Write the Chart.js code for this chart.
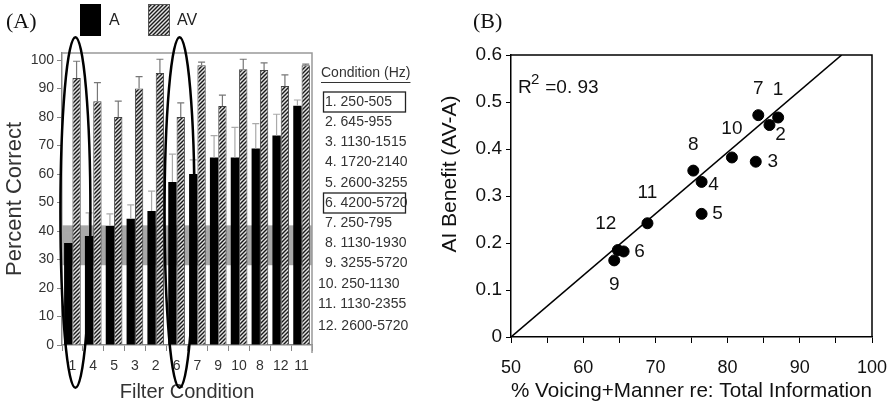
<!DOCTYPE html>
<html>
<head>
<meta charset="utf-8">
<script src="https://cdn.jsdelivr.net/npm/chart.js@4/dist/chart.umd.min.js"></script>
<style>
body{margin:0;background:#fff;width:892px;height:406px;overflow:hidden;position:relative}
#chartA{position:absolute;left:0;top:0}
#chartB{position:absolute;left:430px;top:0}
</style>
</head>
<body>
<canvas id="chartA" width="430" height="406"></canvas>
<canvas id="chartB" width="462" height="406"></canvas>
<script>
// ---- panel A data ----
const filterOrder = ['1','4','5','3','2','6','7','9','10','8','12','11'];
const pctA     = [35.8,38.3,41.8,44.3,47,57.2,60,65.8,65.8,69,73.5,84];
const pctAErr  = [39.4,46.4,46,49.2,54,67,65,73.5,76.4,77.7,81,86];
const pctAV    = [93.7,85.6,80,90,95.5,80,98.2,83.9,96.8,96.5,90.9,98.2];
const pctAVErr = [99.6,92.1,85.6,94.2,100.3,85,99.3,87.7,100.3,99,94.8,98.6];
const pctTicks = [0,10,20,30,40,50,60,70,80,90,100];
const grayBand = [28,42];
const circledConds = ['1','6'];
const bandLabels = ['1. 250-505','2. 645-955','3. 1130-1515','4. 1720-2140','5. 2600-3255','6. 4200-5720',
  '7. 250-795','8. 1130-1930','9. 3255-5720','10. 250-1130','11. 1130-2355','12. 2600-5720'];
const boxedConds = ['1','6'];

// ---- panel B data ----
const condIds   = ['1','2','3','4','5','6','7','8','9','10','11','12'];
const vmPct     = [87.0,85.8,83.9,76.4,76.4,65.6,84.25,75.25,64.3,80.6,68.9,64.8];
const aiBenefit = [0.467,0.451,0.373,0.330,0.262,0.182,0.472,0.354,0.163,0.382,0.242,0.185];
const fitEnds   = [[50,0],[95.8,0.6]];
const rSquared  = '0. 93';

const sans = "'Liberation Sans', Arial, sans-serif";
const serif = "'Liberation Serif', 'Times New Roman', serif";

function makeHatch(){
  const c=document.createElement('canvas'); c.width=4; c.height=4;
  const g=c.getContext('2d');
  g.fillStyle='#e2e2e2'; g.fillRect(0,0,4,4);
  g.strokeStyle='#1a1a1a'; g.lineWidth=1.4;
  g.beginPath();
  g.moveTo(0,4); g.lineTo(4,0);
  g.moveTo(-1,1); g.lineTo(1,-1);
  g.moveTo(3,5); g.lineTo(5,3);
  g.stroke();
  return g.createPattern(c,'repeat');
}
const hatch = makeHatch();

// gray band behind bars
const bandPlugin = {
  id:'band',
  beforeDatasetsDraw(chart){
    const {ctx, chartArea:a, scales:{y}} = chart;
    const t=y.getPixelForValue(grayBand[1]), b=y.getPixelForValue(grayBand[0]);
    ctx.save(); ctx.fillStyle='#a8a8a8'; ctx.fillRect(a.left,t,a.right-a.left,b-t); ctx.restore();
  }
};

// upward error bars
const errorPlugin = {
  id:'errs',
  afterDatasetsDraw(chart){
    const {ctx, scales:{y}} = chart;
    chart.data.datasets.forEach((ds,i)=>{
      if(!ds.errTop) return;
      chart.getDatasetMeta(i).data.forEach((bar,j)=>{
        const yt=y.getPixelForValue(ds.errTop[j]);
        ctx.save(); ctx.strokeStyle=ds.errColor; ctx.lineWidth=1.2;
        ctx.beginPath();
        ctx.moveTo(bar.x,bar.y); ctx.lineTo(bar.x,yt);
        ctx.moveTo(bar.x-3.5,yt); ctx.lineTo(bar.x+3.5,yt);
        ctx.stroke(); ctx.restore();
      });
    });
  }
};

// frame, legend, ellipses and condition list for panel A
const decorA = {
  id:'decorA',
  afterDraw(chart){
    const {ctx, chartArea:a, scales:{x,y}} = chart;
    ctx.save();
    ctx.strokeStyle='#999'; ctx.lineWidth=1.5;
    ctx.beginPath(); ctx.moveTo(a.left,a.top); ctx.lineTo(a.right,a.top); ctx.lineTo(a.right,a.bottom+8); ctx.stroke();

    // panel letter + legend
    ctx.fillStyle='#111'; ctx.font='22px '+serif; ctx.textBaseline='middle'; ctx.textAlign='left';
    ctx.fillText('(A)',6,22);
    ctx.fillStyle='#000'; ctx.fillRect(80,4,21,32);
    ctx.fillStyle=hatch; ctx.fillRect(148,4,22,32);
    ctx.strokeStyle='#555'; ctx.lineWidth=1; ctx.strokeRect(148.5,4.5,21,31);
    ctx.fillStyle='#222'; ctx.font='16px '+sans;
    ctx.fillText(chart.data.datasets[0].label,109,21);
    ctx.fillText(chart.data.datasets[1].label,177,21);

    // ellipses round the circled conditions
    ctx.strokeStyle='#000'; ctx.lineWidth=2.5;
    circledConds.forEach(c=>{
      const cx=x.getPixelForValue(filterOrder.indexOf(c))+3;
      const top=y.getPixelForValue(108), bot=y.getPixelForValue(-15);
      ctx.beginPath(); ctx.ellipse(cx,(top+bot)/2,15,(bot-top)/2,0,0,Math.PI*2); ctx.stroke();
    });

    // condition list on the right
    ctx.fillStyle='#333'; ctx.font='14px '+sans; ctx.textAlign='left';
    ctx.fillText('Condition (Hz)',321,73);
    const w=ctx.measureText('Condition (Hz)').width;
    ctx.strokeStyle='#333'; ctx.lineWidth=1;
    ctx.beginPath(); ctx.moveTo(321,82.5); ctx.lineTo(321+w,82.5); ctx.stroke();
    bandLabels.forEach((t,i)=>{
      const ly=102+i*20.2+(i===11?2:0);
      const num=t.split('.')[0];
      ctx.fillText(t, num.length>1?318:325, ly);
      if(boxedConds.includes(num)){
        ctx.strokeStyle='#222'; ctx.lineWidth=1.3;
        ctx.strokeRect(323.5,ly-10,82,20);
      }
    });
    ctx.restore();
  }
};

new Chart(document.getElementById('chartA'),{
  type:'bar',
  data:{
    labels:filterOrder,
    datasets:[
      {label:'A',data:pctA,backgroundColor:'#000',borderWidth:0,errTop:pctAErr,errColor:'#aaa'},
      {label:'AV',data:pctAV,backgroundColor:hatch,borderColor:'#444',borderWidth:1,errTop:pctAVErr,errColor:'#777'}
    ]
  },
  options:{
    responsive:false, animation:false,
    layout:{padding:{left:0,right:118,top:53,bottom:0}},
    datasets:{bar:{categoryPercentage:0.8,barPercentage:1}},
    plugins:{legend:{display:false},tooltip:{enabled:false}},
    scales:{
      x:{
        grid:{display:true,drawOnChartArea:false,tickLength:6,color:'#888',offset:true},
        border:{color:'#888',width:1.5},
        ticks:{color:'#333',font:{family:sans,size:14},padding:7,maxRotation:0},
        title:{display:true,text:'Filter Condition',color:'#333',font:{family:sans,size:20},padding:{top:0,bottom:2}},
        afterFit(s){s.height=61;}
      },
      y:{
        min:0,max:102.5,
        grid:{display:true,drawOnChartArea:false,tickLength:5,color:'#888'},
        border:{color:'#888',width:1.5},
        ticks:{color:'#333',font:{family:sans,size:14},padding:3},
        afterBuildTicks(s){s.ticks=pctTicks.map(v=>({value:v}));},
        title:{display:true,text:'Percent Correct',color:'#333',font:{family:sans,size:22},padding:{top:2,bottom:0}},
        afterFit(s){s.width=62;}
      }
    }
  },
  plugins:[bandPlugin,errorPlugin,decorA]
});

// ---- panel B ----
const decorB = {
  id:'decorB',
  afterDraw(chart){
    const {ctx, chartArea:a, scales:{x,y}} = chart;
    ctx.save();
    ctx.strokeStyle='#000'; ctx.lineWidth=1.5;
    ctx.beginPath(); ctx.moveTo(a.left,a.top); ctx.lineTo(a.right,a.top); ctx.lineTo(a.right,a.bottom); ctx.stroke();
    ctx.fillStyle='#111'; ctx.textBaseline='middle'; ctx.textAlign='left';
    ctx.font='22px '+serif; ctx.fillText('(B)',43,22);

    // point labels
    const offs={'1':[0,-28],'2':[11,10],'3':[17,0],'4':[12,3],'5':[16,0],'6':[16,0],
      '7':[0,-26],'8':[0,-26],'9':[0,24],'10':[0,-29],'11':[0,-30],'12':[-12,-26]};
    ctx.font='19px '+sans; ctx.textAlign='center'; ctx.fillStyle='#111';
    condIds.forEach((c,i)=>{
      const px=x.getPixelForValue(vmPct[i]), py=y.getPixelForValue(aiBenefit[i]);
      const o=offs[c];
      ctx.fillText(c,px+o[0],py+o[1]);
    });

    // R^2
    ctx.textAlign='left'; ctx.font='19px '+sans;
    ctx.fillText('R',a.left+7,88);
    ctx.font='15px '+sans; ctx.fillText('2',a.left+20,80);
    ctx.font='19px '+sans; ctx.fillText(' ='+rSquared,a.left+29,88);

    // y title
    ctx.translate(20,(a.top+a.bottom)/2-22); ctx.rotate(-Math.PI/2);
    ctx.textAlign='center'; ctx.font='21px '+sans; ctx.fillStyle='#111';
    ctx.fillText('AI Benefit (AV-A)',0,0);
    ctx.restore();
  }
};

new Chart(document.getElementById('chartB'),{
  type:'scatter',
  data:{
    datasets:[
      {type:'line',data:fitEnds.map(p=>({x:p[0],y:p[1]})),borderColor:'#000',borderWidth:1.6,pointRadius:0,fill:false},
      {data:vmPct.map((v,i)=>({x:v,y:aiBenefit[i]})),backgroundColor:'#000',borderColor:'#000',pointRadius:5.5}
    ]
  },
  options:{
    responsive:false, animation:false,
    layout:{padding:{left:0,right:20,top:55,bottom:0}},
    plugins:{legend:{display:false},tooltip:{enabled:false}},
    scales:{
      x:{
        type:'linear',min:50,max:100,
        grid:{display:true,drawOnChartArea:false,tickLength:6,color:'#000'},
        border:{color:'#000',width:1.5},
        ticks:{stepSize:5,color:'#111',font:{family:sans,size:18},padding:14,
          callback:v=>v%10===0?String(v):''},
        title:{display:true,text:'% Voicing+Manner re: Total Information',color:'#111',font:{family:sans,size:21},padding:{top:0,bottom:2}},
        afterFit(s){s.height=69;s.paddingLeft=0;s.paddingRight=0;}
      },
      y:{
        min:0,max:0.6,
        grid:{display:true,drawOnChartArea:false,tickLength:5,color:'#000'},
        border:{color:'#000',width:1.5},
        ticks:{stepSize:0.05,color:'#111',font:{family:sans,size:19},padding:4,
          callback:v=>Math.round(v*100)%10===0?String(Math.round(v*10)/10):''},
        afterFit(s){s.width=81;}
      }
    }
  },
  plugins:[decorB]
});
</script>
</body>
</html>
